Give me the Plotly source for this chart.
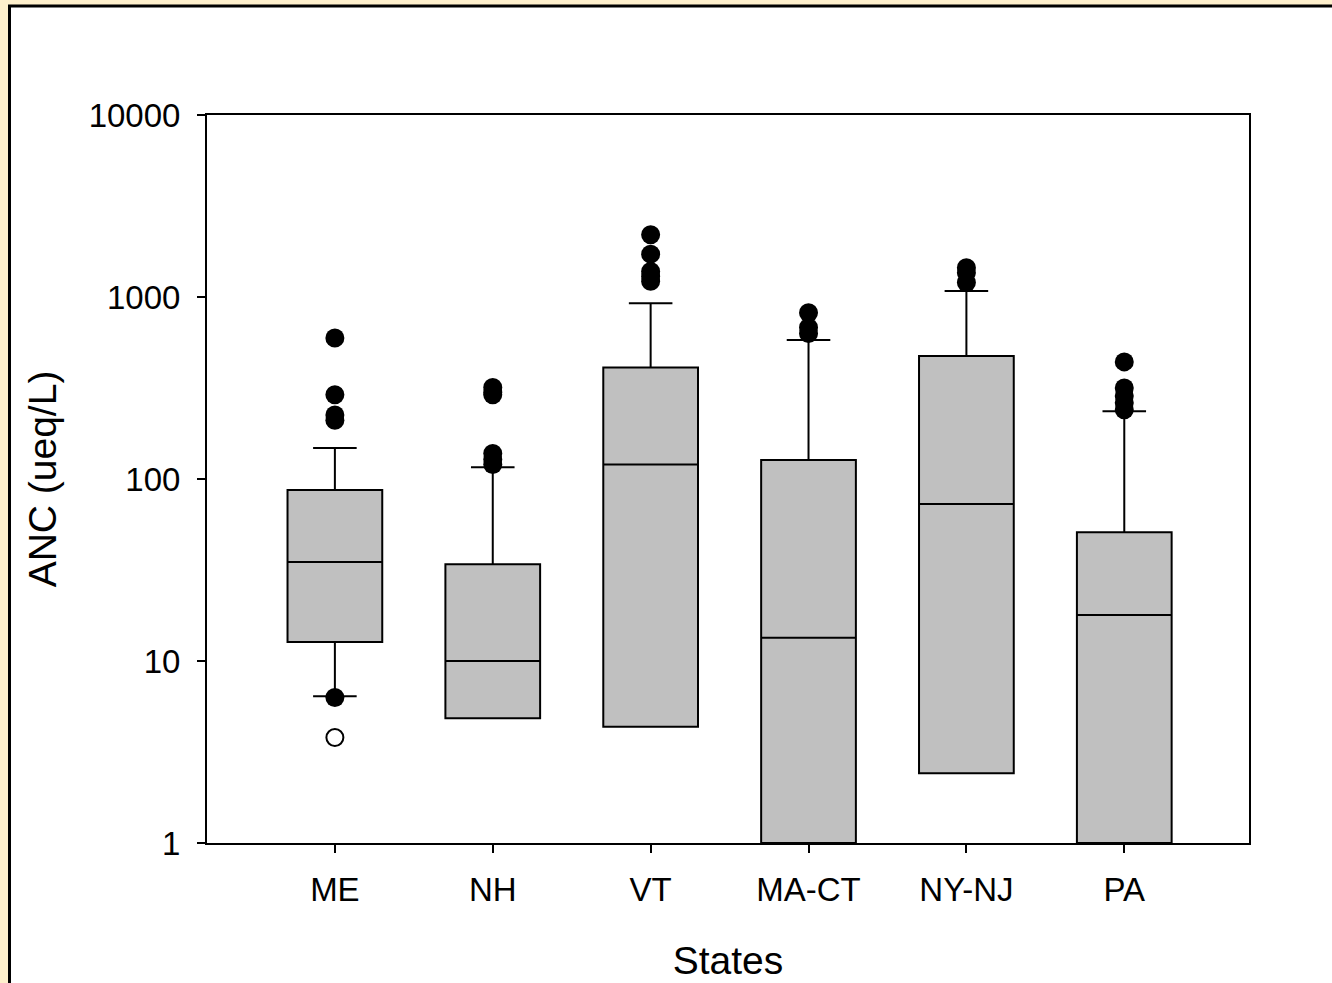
import plotly.graph_objects as go

# ---- data ----
states = ["ME", "NH", "VT", "MA-CT", "NY-NJ", "PA"]
q1 = [12.7, 4.85, 4.35, 1.0, 2.42, 1.0]
median = [35.0, 10.0, 120.0, 13.4, 73.0, 17.9]
q3 = [87.0, 34.0, 410.0, 127.0, 474.0, 51.0]
lower_whisker = [6.4, 4.85, 4.35, 1.0, 2.42, 1.0]
upper_whisker = [148.0, 116.0, 925.0, 580.0, 1080.0, 236.0]

outlier_state = ["ME", "ME", "ME", "ME", "ME",
                 "NH", "NH", "NH", "NH", "NH", "NH",
                 "VT", "VT", "VT", "VT", "VT",
                 "MA-CT", "MA-CT", "MA-CT",
                 "NY-NJ", "NY-NJ", "NY-NJ",
                 "PA", "PA", "PA", "PA", "PA"]
outlier_value = [595, 290, 225, 210, 6.3,
                 318, 300, 290, 138, 128, 120,
                 2200, 1720, 1380, 1300, 1220,
                 820, 680, 630,
                 1450, 1360, 1200,
                 440, 316, 286, 262, 240]

extreme_state = ["ME"]
extreme_value = [3.8]

y_tickvals = [1, 10, 100, 1000, 10000]
y_ticktext = ["1", "10", "100", "1000", "10000"]

x_title = "States"
y_title = "ANC (ueq/L)"

# ---- layout constants ----
W, H = 1332, 983
L, R, T, B = 207, 83, 115, 140
plot_w = W - L - R
plot_h = H - T - B
FONT = "Liberation Sans, Arial, sans-serif"

fig = go.Figure()

fig.add_trace(go.Box(
    x=states,
    q1=q1, median=median, q3=q3,
    lowerfence=lower_whisker, upperfence=upper_whisker,
    boxpoints=False,
    fillcolor="#C0C0C0",
    line=dict(color="black", width=2),
    width=0.6,
    whiskerwidth=0.46,
    showlegend=False,
    hoverinfo="skip",
))

fig.add_trace(go.Scatter(
    x=outlier_state, y=outlier_value, mode="markers",
    marker=dict(color="black", size=19, line=dict(width=0)),
    showlegend=False, hoverinfo="skip",
))

fig.add_trace(go.Scatter(
    x=extreme_state, y=extreme_value, mode="markers",
    marker=dict(color="white", size=17, line=dict(color="black", width=2)),
    showlegend=False, hoverinfo="skip",
))

# outer framed panel (white area with black border over the yellow page)
def px_to_paper_x(px):
    return (px - L) / plot_w

def px_to_paper_y(py):
    return (H - B - py) / plot_h

fig.add_shape(
    type="rect", xref="paper", yref="paper",
    x0=px_to_paper_x(9.5), x1=px_to_paper_x(W + 20),
    y0=px_to_paper_y(H + 20), y1=px_to_paper_y(6),
    line=dict(color="black", width=3),
    fillcolor="white", layer="below",
)

fig.update_layout(
    width=W, height=H,
    margin=dict(l=L, r=R, t=T, b=B, pad=0, autoexpand=False),
    paper_bgcolor="#FEF0CC",
    plot_bgcolor="white",
    font=dict(family=FONT, color="black", size=33),
    showlegend=False,
)

fig.update_xaxes(
    type="category",
    categoryorder="array", categoryarray=states,
    range=[-0.81, 5.79],
    automargin=False,
    showline=True, mirror=True, linecolor="black", linewidth=2,
    ticks="outside", ticklen=8, tickwidth=2, tickcolor="black",
    showgrid=False, zeroline=False,
    tickfont=dict(family=FONT, size=33, color="black"),
    ticklabelstandoff=8,
    title=dict(text=x_title, font=dict(family=FONT, size=39, color="black"), standoff=40),
)

fig.update_yaxes(
    type="log", range=[0, 4],
    tickvals=y_tickvals, ticktext=y_ticktext,
    automargin=False,
    showline=True, mirror=True, linecolor="black", linewidth=2,
    ticks="outside", ticklen=8, tickwidth=2, tickcolor="black",
    showgrid=False, zeroline=False,
    tickfont=dict(family=FONT, size=33, color="black"),
    ticklabelstandoff=10,
    title=dict(text=y_title, font=dict(family=FONT, size=39, color="black"), standoff=20),
)

fig.write_html("out.html", config={"displayModeBar": False},
               post_script="document.body.style.margin='0';document.body.style.overflow='hidden';")
